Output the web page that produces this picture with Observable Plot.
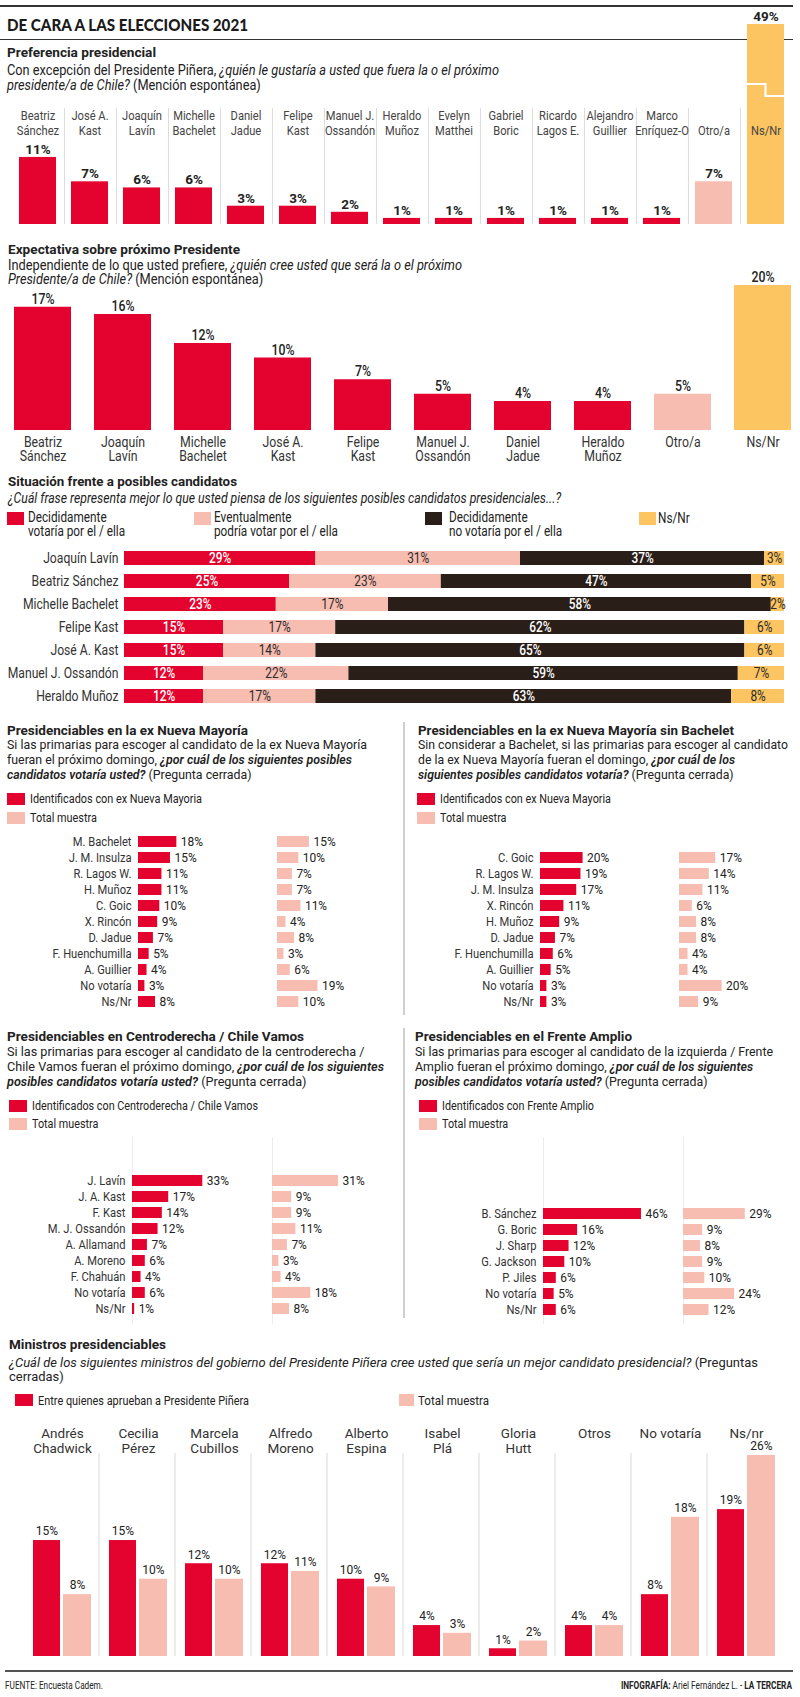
<!DOCTYPE html>
<html><head><meta charset="utf-8">
<script src="https://cdn.jsdelivr.net/npm/d3@7"></script>
<script src="https://cdn.jsdelivr.net/npm/@observablehq/plot@0.6"></script>
<style>
body{margin:0;background:#fff;}
#root{position:relative;width:800px;height:1697px;overflow:hidden;font-family:Roboto,sans-serif;color:#222;background:#fff;}
</style></head>
<body><div id="root"></div>
<script>
// ---------- DATA ----------
// 1. Preferencia presidencial
const prefNames = ["Beatriz Sánchez","José A. Kast","Joaquín Lavín","Michelle Bachelet","Daniel Jadue","Felipe Kast","Manuel J. Ossandón","Heraldo Muñoz","Evelyn Matthei","Gabriel Boric","Ricardo Lagos E.","Alejandro Guillier","Marco Enríquez-O","Otro/a","Ns/Nr"];
const prefLabels = ["Beatriz\nSánchez","José A.\nKast","Joaquín\nLavín","Michelle\nBachelet","Daniel\nJadue","Felipe\nKast","Manuel J.\nOssandón","Heraldo\nMuñoz","Evelyn\nMatthei","Gabriel\nBoric","Ricardo\nLagos E.","Alejandro\nGuillier","Marco\nEnríquez-O","\nOtro/a","\nNs/Nr"];
const prefValues = [11,7,6,6,3,3,2,1,1,1,1,1,1,7,49];
const prefKinds = ["c","c","c","c","c","c","c","c","c","c","c","c","c","o","n"];

// 2. Expectativa sobre próximo Presidente
const expNames = ["Beatriz Sánchez","Joaquín Lavín","Michelle Bachelet","José A. Kast","Felipe Kast","Manuel J. Ossandón","Daniel Jadue","Heraldo Muñoz","Otro/a","Ns/Nr"];
const expLabels = ["Beatriz\nSánchez","Joaquín\nLavín","Michelle\nBachelet","José A.\nKast","Felipe\nKast","Manuel J.\nOssandón","Daniel\nJadue","Heraldo\nMuñoz","Otro/a","Ns/Nr"];
const expValues = [17,16,12,10,7,5,4,4,5,20];
const expKinds = ["c","c","c","c","c","c","c","c","o","n"];

// 3. Situación frente a posibles candidatos
const sitNames = ["Joaquín Lavín","Beatriz Sánchez","Michelle Bachelet","Felipe Kast","José A. Kast","Manuel J. Ossandón","Heraldo Muñoz"];
const sitCats = ["Decididamente votaría por el / ella","Eventualmente podría votar por el / ella","Decididamente no votaría por el / ella","Ns/Nr"];
const sitVotaria   = [29,25,23,15,15,12,12];
const sitPodria    = [31,23,17,17,14,22,17];
const sitNoVotaria = [37,47,58,62,65,59,63];
const sitNsNr      = [3,5,2,6,6,7,8];

// 4. ex Nueva Mayoría
const nmNames = ["M. Bachelet","J. M. Insulza","R. Lagos W.","H. Muñoz","C. Goic","X. Rincón","D. Jadue","F. Huenchumilla","A. Guillier","No votaría","Ns/Nr"];
const nmIdent = [18,15,11,11,10,9,7,5,4,3,8];
const nmTotal = [15,10,7,7,11,4,8,3,6,19,10];

// 5. ex Nueva Mayoría sin Bachelet
const sbNames = ["C. Goic","R. Lagos W.","J. M. Insulza","X. Rincón","H. Muñoz","D. Jadue","F. Huenchumilla","A. Guillier","No votaría","Ns/Nr"];
const sbIdent = [20,19,17,11,9,7,6,5,3,3];
const sbTotal = [17,14,11,6,8,8,4,4,20,9];

// 6. Centroderecha / Chile Vamos
const cdNames = ["J. Lavín","J. A. Kast","F. Kast","M. J. Ossandón","A. Allamand","A. Moreno","F. Chahuán","No votaría","Ns/Nr"];
const cdIdent = [33,17,14,12,7,6,4,6,1];
const cdTotal = [31,9,9,11,7,3,4,18,8];

// 7. Frente Amplio
const faNames = ["B. Sánchez","G. Boric","J. Sharp","G. Jackson","P. Jiles","No votaría","Ns/Nr"];
const faIdent = [46,16,12,10,6,5,6];
const faTotal = [29,9,8,9,10,24,12];

// 8. Ministros presidenciables
const minNames = ["Andrés Chadwick","Cecilia Pérez","Marcela Cubillos","Alfredo Moreno","Alberto Espina","Isabel Plá","Gloria Hutt","Otros","No votaría","Ns/nr"];
const minLine1 = ["Andrés","Cecilia","Marcela","Alfredo","Alberto","Isabel","Gloria","Otros","No votaría","Ns/nr"];
const minLine2 = ["Chadwick","Pérez","Cubillos","Moreno","Espina","Plá","Hutt","","",""];
const minAprueban = [15,15,12,12,10,4,1,4,8,19];
const minTotal    = [8,10,10,11,9,3,2,4,18,26];

// ---------- STYLE ----------
const RED="#e4032e", PINK="#f8bdb1", YEL="#fdc561", DARK="#2a1e18", GRID="#dadada", TXT="#222";
const REG = "Roboto, 'Open Sans', sans-serif";
const root = document.getElementById("root");

function box(x,y,w,h,c){const d=document.createElement("div");Object.assign(d.style,{position:"absolute",left:x+"px",top:y+"px",width:w+"px",height:h+"px",background:c});root.appendChild(d);return d;}
function txt(x,yc,html,o={}){
  const size=o.size||13, lh=o.lh||size;
  const d=document.createElement("div"); d.innerHTML=html;
  Object.assign(d.style,{position:"absolute",top:(yc-lh/2)+"px",fontSize:size+"px",lineHeight:lh+"px",
    fontWeight:o.weight||400,fontFamily:o.family||REG,color:o.color||TXT,whiteSpace:"nowrap",
    letterSpacing:(o.ls||0)+"px",transformOrigin:o.anchor==="end"?"right top":"left top"});
  if(o.anchor==="end"){d.style.right=(800-x)+"px";} else {d.style.left=x+"px";}
  root.appendChild(d); return d;
}
function fit(divs,w){const m=divs[0].getBoundingClientRect().width;const s=w/m;divs.forEach(d=>d.style.transform=`scaleX(${s})`);}
function sx(divs,s){divs.forEach(d=>d.style.transform=`scaleX(${s})`);}
function place(svg,x,y){Object.assign(svg.style,{position:"absolute",left:x+"px",top:y+"px"});root.appendChild(svg);return svg;}
// condense text marks (in mark order) around their anchor
function condense(svg,ks){
  const gs=svg.querySelectorAll('g[aria-label="text"]');
  gs.forEach((g,i)=>{const k=ks[i]; if(k==null||k===1) return;
    g.querySelectorAll("text").forEach(t=>{t.setAttribute("transform",(t.getAttribute("transform")||"")+` scale(${k},1)`);});});
}
const baseStyle={background:"transparent",overflow:"visible",fontFamily:REG};

// ---------- decorative lines ----------
box(0,5,793,1.5,"#333");
box(0,38.5,793,1.5,"#333");
box(403,722,1.5,293,"#cfcfcf");
box(403,1028,1.5,290,"#cfcfcf");
box(5,1670,788,2,"#555");

// ---------- CHART 1 ----------
const pref = prefNames.map((n,i)=>({name:n,label:prefLabels[i],value:prefValues[i],kind:prefKinds[i]}));
const p1 = Plot.plot({
  width:800,height:232,marginTop:24,marginBottom:8,marginLeft:0,marginRight:0,style:baseStyle,
  x:{domain:prefNames,range:[5.6,798.4],paddingInner:0.28,paddingOuter:0.14,axis:null},
  y:{domain:[0,32.8],clamp:true,axis:null},
  color:{domain:["c","o","n"],range:[RED,PINK,YEL]},
  marks:[
    Plot.ruleX(prefNames.slice(0,-1),{x:d=>d,y1:0,y2:19,dx:26.43,stroke:GRID,strokeWidth:1}),
    Plot.barY(pref,{x:"name",y:"value",fill:"kind"}),
    Plot.text(pref,{x:"name",y:"value",text:d=>d.value+"%",dy:-8,fontSize:13.5,fontWeight:700,fill:TXT}),
    Plot.text(pref,{x:"name",text:"label",frameAnchor:"top",lineAnchor:"top",dy:84.5,fontSize:12,lineHeight:1.25,fill:"#444"})
  ]
});
condense(p1,[1,0.93]);
place(p1,0,0);
{ // axis break on the truncated Ns/Nr bar
  const sxl=p1.scale("x"); const bx=sxl.apply("Ns/Nr"), bw=sxl.bandwidth;
  d3.select(p1).append("path").attr("d",`M${bx},84H${bx+bw/2}V96H${bx+bw}`).attr("fill","none").attr("stroke","#fff").attr("stroke-width",2.2);
}

// ---------- CHART 2 ----------
const exp = expNames.map((n,i)=>({name:n,label:expLabels[i],value:expValues[i],kind:expKinds[i]}));
const p2 = Plot.plot({
  width:800,height:234,marginTop:53,marginBottom:36,marginLeft:0,marginRight:0,style:baseStyle,
  x:{domain:expNames,range:[1.45,802.5],paddingInner:0.29,paddingOuter:0.145,axis:null},
  y:{domain:[0,20],axis:null},
  color:{domain:["c","o","n"],range:[RED,PINK,YEL]},
  marks:[
    Plot.barY(exp,{x:"name",y:"value",fill:"kind"}),
    Plot.text(exp,{x:"name",y:"value",text:d=>d.value+"%",dy:-8,fontSize:14.5,fontWeight:500,fill:TXT}),
    Plot.text(exp,{x:"name",text:"label",frameAnchor:"bottom",lineAnchor:"top",dy:6,fontSize:15,lineHeight:0.95,fill:"#333"})
  ]
});
condense(p2,[0.85,0.82]);
place(p2,0,232);

// ---------- CHART 3 ----------
const sitSeries=[sitVotaria,sitPodria,sitNoVotaria,sitNsNr];
const segs=[];
sitNames.forEach((n,i)=>{let c=0;sitCats.forEach((cat,j)=>{const v=sitSeries[j][i];segs.push({name:n,cat,j,value:v,x1:c,x2:c+v});c+=v;});});
const p3 = Plot.plot({
  width:800,height:172,marginLeft:124,marginRight:16,marginTop:4,marginBottom:2,style:baseStyle,
  x:{domain:[0,100],axis:null},
  y:{domain:sitNames,paddingInner:0.41,paddingOuter:0.205,axis:null},
  color:{domain:sitCats,range:[RED,PINK,DARK,YEL]},
  marks:[
    Plot.barX(segs,{x1:"x1",x2:"x2",y:"name",fill:"cat"}),
    Plot.text(segs.filter(d=>d.j===0||d.j===2),{x:d=>(d.x1+d.x2)/2,y:"name",text:d=>d.value+"%",fill:"#fff",fontSize:14,fontWeight:500}),
    Plot.text(segs.filter(d=>d.j===1||d.j===3),{x:d=>(d.x1+d.x2)/2,y:"name",text:d=>d.value+"%",fill:"#2a2a2a",fontSize:14,fontWeight:400}),
    Plot.text(sitNames,{y:d=>d,text:d=>d,frameAnchor:"left",textAnchor:"end",dx:-6,fontSize:14.5,fill:"#333"})
  ]
});
condense(p3,[0.85,0.85,0.84]);
place(p3,0,540);

// ---------- SMALL CHARTS (4-7) ----------
const K=2.13;
function small({left,names,a,b,first,redStart,pinkStart,ruleFrom}){
  const n=names.length, step=16.9;
  const top = ruleFrom!=null ? ruleFrom : first-step/2-2;
  const y0 = first-step/2-top, yr=[y0,y0+n*step], H=yr[1]+3;
  const rows=names.map((nm,i)=>({name:nm,a:a[i],b:b[i]}));
  const yopt={domain:names,range:yr,paddingInner:0.29,paddingOuter:0.145,axis:null};
  const guide = ruleFrom!=null ? [Plot.ruleX([0],{stroke:"#ececec"})] : [];
  const pa=Plot.plot({width:400,height:H,margin:0,style:baseStyle,y:yopt,
    x:{domain:[0,50],range:[redStart,redStart+50*K],axis:null},
    marks:[...guide,
      Plot.barX(rows,{x:"a",y:"name",fill:RED}),
      Plot.text(rows,{x:"a",y:"name",text:d=>d.a+"%",dx:4,textAnchor:"start",fontSize:13,fill:TXT}),
      Plot.text(rows,{x:0,y:"name",text:"name",dx:-7,textAnchor:"end",fontSize:13,fill:"#333"})]});
  condense(pa,[0.92,0.86]);
  place(pa,left,top);
  const pb=Plot.plot({width:400,height:H,margin:0,style:baseStyle,y:yopt,
    x:{domain:[0,50],range:[pinkStart,pinkStart+50*K],axis:null},
    marks:[...guide,
      Plot.barX(rows,{x:"b",y:"name",fill:PINK}),
      Plot.text(rows,{x:"b",y:"name",text:d=>d.b+"%",dx:4,textAnchor:"start",fontSize:13,fill:TXT})]});
  condense(pb,[0.92]);
  place(pb,left,top);
}
small({left:0,names:nmNames,a:nmIdent,b:nmTotal,first:837,redStart:138,pinkStart:277});
small({left:400,names:sbNames,a:sbIdent,b:sbTotal,first:853,redStart:140,pinkStart:279});
small({left:0,names:cdNames,a:cdIdent,b:cdTotal,first:1177,redStart:132,pinkStart:272,ruleFrom:1137});
small({left:400,names:faNames,a:faIdent,b:faTotal,first:1211,redStart:143,pinkStart:283,ruleFrom:1137});

// ---------- CHART 8 ----------
const mins=minNames.map((n,i)=>({name:n,l1:minLine1[i],l2:minLine2[i],a:minAprueban[i],b:minTotal[i]}));
const p8=Plot.plot({
  width:800,height:250,margin:0,style:baseStyle,
  x:{domain:minNames,range:[23.94,784.9],paddingInner:0.238,paddingOuter:0.119,axis:null},
  y:{domain:[0,26],range:[244,43],axis:null},
  marks:[
    Plot.ruleX(minNames.slice(1),{x:d=>d,y1:0,y2:26.26,dx:-39.5,stroke:GRID}),
    Plot.barY(mins,{x:"name",y:"a",fill:RED,insetRight:31}),
    Plot.barY(mins,{x:"name",y:"b",fill:PINK,insetLeft:30}),
    Plot.text(mins,{x:"name",y:"a",text:d=>d.a+"%",dx:-15.5,dy:-9,fontSize:12,fill:TXT}),
    Plot.text(mins,{x:"name",y:"b",text:d=>d.b+"%",dx:15,dy:-9,fontSize:12,fill:TXT}),
    Plot.text(mins,{x:"name",text:"l1",frameAnchor:"top",dy:16,fontSize:13.5,fill:"#333"}),
    Plot.text(mins.filter(d=>d.l2),{x:"name",text:"l2",frameAnchor:"top",dy:31,fontSize:13.5,fill:"#333"})
  ]
});
place(p8,0,1412);

// ---------- TEXTS ----------
fit([txt(7,24,"DE CARA A LAS ELECCIONES 2021",{size:17,weight:900,family:"Lato, Roboto, sans-serif",color:"#1a1a1a"})],241);
fit([txt(7,53,"Preferencia presidencial",{size:13.5,weight:700})],149);
fit([txt(7,70,"Con excepción del Presidente Piñera, <i>¿quién le gustaría a usted que fuera la o el próximo</i>",{size:14}),
     txt(7,85,"<i>presidente/a de Chile?</i> (Mención espontánea)",{size:14})],492);

fit([txt(8,250,"Expectativa sobre próximo Presidente",{size:13.5,weight:700})],232);
fit([txt(8,265,"Independiente de lo que usted prefiere, <i>¿quién cree usted que será la o el próximo</i>",{size:14}),
     txt(8,279,"<i>Presidente/a de Chile?</i> (Mención espontánea)",{size:14})],454);

fit([txt(8,482,"Situación frente a posibles candidatos",{size:13.5,weight:700})],229);
fit([txt(8,498,"<i>¿Cuál frase representa mejor lo que usted piensa de los siguientes posibles candidatos presidenciales...?</i>",{size:14})],553);
// legend chart 3
[[7,RED],[194,PINK],[425,DARK],[639,YEL]].forEach(([x,c])=>box(x,512,17,13,c));
sx([txt(28,518,"Decididamente<br>votaría por el / ella",{size:14,lh:13.5})],0.84);
sx([txt(214,518,"Eventualmente<br>podría votar por el / ella",{size:14,lh:13.5})],0.84);
sx([txt(449,518,"Decididamente<br>no votaría por el / ella",{size:14,lh:13.5})],0.84);
sx([txt(658,518,"Ns/Nr",{size:14})],0.84);

// chart 4
fit([txt(7,731,"Presidenciables en la ex Nueva Mayoría",{size:13.5,weight:700})],241);
fit([txt(7,745,"Si las primarias para escoger al candidato de la ex Nueva Mayoría",{size:13.5}),
     txt(7,760,"fueran el próximo domingo, <i style='font-weight:600'>¿por cuál de los siguientes posibles</i>",{size:13.5}),
     txt(7,775,"<i style='font-weight:600'>candidatos votaría usted?</i> (Pregunta cerrada)",{size:13.5})],360);
box(7,793,18,12,RED); box(7,812,18,12,PINK);
fit([txt(30,799,"Identificados con ex Nueva Mayoria",{size:12.5}),txt(30,818,"Total muestra",{size:12.5})],172);

// chart 5
fit([txt(418,731,"Presidenciables en la ex Nueva Mayoría sin Bachelet",{size:13.5,weight:700})],316);
fit([txt(418,745,"Sin considerar a Bachelet, si las primarias para escoger al candidato",{size:13.5}),
     txt(418,760,"de la ex Nueva Mayoría fueran el domingo, <i style='font-weight:600'>¿por cuál de los</i>",{size:13.5}),
     txt(418,775,"<i style='font-weight:600'>siguientes posibles candidatos votaría?</i> (Pregunta cerrada)",{size:13.5})],370);
box(417,793,18,12,RED); box(417,812,18,12,PINK);
fit([txt(440,799,"Identificados con ex Nueva Mayoria",{size:12.5}),txt(440,818,"Total muestra",{size:12.5})],171);

// chart 6
fit([txt(7,1037,"Presidenciables en Centroderecha / Chile Vamos",{size:13.5,weight:700})],297);
fit([txt(7,1067,"Chile Vamos fueran el próximo domingo, <i style='font-weight:600'>¿por cuál de los siguientes</i>",{size:13.5}),
     txt(7,1052,"Si las primarias para escoger al candidato de la centroderecha /",{size:13.5}),
     txt(7,1082,"<i style='font-weight:600'>posibles candidatos votaría usted?</i> (Pregunta cerrada)",{size:13.5})],377);
box(9,1100,18,12,RED); box(9,1118,18,12,PINK);
fit([txt(32,1106,"Identificados con Centroderecha / Chile Vamos",{size:12.5}),txt(32,1124,"Total muestra",{size:12.5})],226);

// chart 7
fit([txt(415,1037,"Presidenciables en el Frente Amplio",{size:13.5,weight:700})],217);
fit([txt(415,1052,"Si las primarias para escoger al candidato de la izquierda / Frente",{size:13.5}),
     txt(415,1067,"Amplio fueran el próximo domingo, <i style='font-weight:600'>¿por cuál de los siguientes</i>",{size:13.5}),
     txt(415,1082,"<i style='font-weight:600'>posibles candidatos votaría usted?</i> (Pregunta cerrada)",{size:13.5})],358);
box(419,1100,18,12,RED); box(419,1118,18,12,PINK);
fit([txt(442,1106,"Identificados con Frente Amplio",{size:12.5}),txt(442,1124,"Total muestra",{size:12.5})],152);

// chart 8
fit([txt(9,1345,"Ministros presidenciables",{size:13.5,weight:700})],157);
fit([txt(9,1362.5,"<i>¿Cuál de los siguientes ministros del gobierno del Presidente Piñera cree usted que sería un mejor candidato presidencial?</i> (Preguntas",{size:13.5}),
     txt(9,1376.5,"cerradas)",{size:13.5})],749);
box(15,1394,18,12,RED); box(399,1394,15,12,PINK);
fit([txt(38,1400,"Entre quienes aprueban a Presidente Piñera",{size:13})],211);
fit([txt(418,1400,"Total muestra",{size:13})],71);

// footer
fit([txt(5,1685,"FUENTE: Encuesta Cadem.",{size:11})],98);
fit([txt(792,1685,"<b>INFOGRAFÍA:</b> Ariel Fernández L. - <b>LA TERCERA</b>",{size:11,anchor:"end"})],171);
</script>
</body></html>
